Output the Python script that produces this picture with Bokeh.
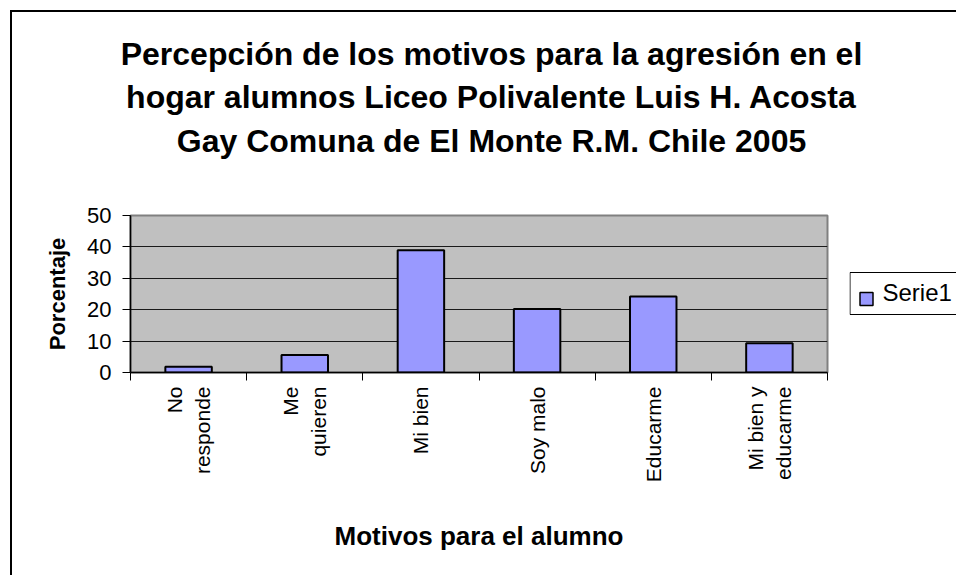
import math
from bokeh.plotting import figure
from bokeh.layouts import column, row
from bokeh.models import Range1d, FixedTicker, ColumnDataSource
from bokeh.core.properties import value
from bokeh.embed import file_html
from bokeh.resources import INLINE

# ---- data ----
categories = ["No\nresponde", "Me\nquieren", "Mi bien", "Soy malo", "Educarme", "Mi bien y\neducarme"]
values = [1.8, 5.6, 38.9, 20.2, 24.2, 9.3]
y_ticks = [0, 10, 20, 30, 40, 50]
series_name = "Serie1"
title_lines = [
    "Percepción de los motivos para la agresión en el",
    "hogar alumnos Liceo Polivalente Luis H. Acosta",
    "Gay Comuna de El Monte R.M. Chile 2005",
]
x_title = "Motivos para el alumno"
y_title = "Porcentaje"

FONT = "Liberation Sans"
BAR_FILL = "#9999FF"

# ---- layout (pixels) ----
TOTAL_W = 944
TITLE_H = 190
CHART_W, CHART_H = 837, 373
LEG_W = TOTAL_W - CHART_W
FL, FT, FW, FH = 118, 13, 697, 157   # plot frame inside the chart canvas


def blank(width, height, y_range=None):
    f = figure(width=width, height=height, x_range=Range1d(0, width),
               y_range=y_range if y_range is not None else Range1d(0, height),
               min_border=0, x_axis_location=None, y_axis_location=None,
               toolbar_location=None, output_backend="svg", title=None)
    f.outline_line_color = None
    f.background_fill_color = "white"
    f.border_fill_color = "white"
    f.grid.visible = False
    return f


# ---- title block ----
tp = blank(TOTAL_W, TITLE_H)
title_src = ColumnDataSource(dict(
    x=[TOTAL_W / 2 + 7] * len(title_lines),
    y=[TITLE_H - (41 + 43.5 * i) for i in range(len(title_lines))],
    text=title_lines))
tp.text(x="x", y="y", text="text", source=title_src, text_align="center",
        text_baseline="middle", text_font=value(FONT), text_font_size="32px",
        text_font_style="bold", text_color="black")

# ---- chart ----
n = len(categories)
centers = [i + 0.5 for i in range(n)]
bounds = list(range(n + 1))
src = ColumnDataSource(dict(x=centers, top=values, cat=categories))

y_rng = Range1d(y_ticks[0], y_ticks[-1])
p = figure(
    x_range=Range1d(0, n), y_range=y_rng,
    width=CHART_W, height=CHART_H, title=None,
    output_backend="svg", toolbar_location=None,
    x_axis_location="below", y_axis_location="left",
    min_border_left=FL, min_border_right=CHART_W - FL - FW,
    min_border_top=FT, min_border_bottom=CHART_H - FT - FH,
)
p.background_fill_color = "#C0C0C0"
p.border_fill_color = "white"
p.outline_line_color = "#808080"
p.outline_line_width = 2

p.vbar(x="x", top="top", source=src, width=0.4, fill_color=BAR_FILL,
       line_color="black", line_width=2)

p.xgrid.visible = False
p.ygrid.ticker = FixedTicker(ticks=y_ticks[1:-1])
p.ygrid.grid_line_color = "#1a1a1a"
p.ygrid.grid_line_width = 1

ya = p.yaxis[0]
ya.ticker = FixedTicker(ticks=y_ticks)
ya.major_tick_out = 8
ya.major_tick_in = 0
ya.minor_tick_line_color = None
ya.axis_line_color = "black"
ya.axis_line_width = 1.5
ya.major_label_text_font = FONT
ya.major_label_text_font_size = "22px"
ya.major_label_text_color = "black"
ya.major_label_standoff = 11
ya.axis_label = y_title
ya.axis_label_text_font = FONT
ya.axis_label_text_font_size = "22px"
ya.axis_label_text_font_style = "bold"
ya.axis_label_text_color = "black"
ya.axis_label_standoff = 14

xa = p.xaxis[0]
xa.ticker = FixedTicker(ticks=centers, minor_ticks=bounds)
xa.major_label_overrides = {c: lab for c, lab in zip(centers, categories)}
xa.axis_line_color = "black"
xa.axis_line_width = 1.5
xa.major_tick_line_color = None
xa.major_tick_out = 0
xa.major_tick_in = 0
xa.minor_tick_line_color = "black"
xa.minor_tick_out = 8
xa.minor_tick_in = 0
xa.major_label_orientation = math.pi / 2
xa.major_label_standoff = 6
xa.major_label_text_font = FONT
xa.major_label_text_font_size = "21px"
xa.major_label_text_color = "black"
xa.axis_label = x_title
xa.axis_label_text_font = FONT
xa.axis_label_text_font_size = "26px"
xa.axis_label_text_font_style = "bold"
xa.axis_label_text_color = "black"
xa.axis_label_standoff = 36


def frame_y(page_y):
    """page pixel row (plot frame spans rows 215..372) -> value on the y scale"""
    return (372 - page_y) / (372 - 215) * (y_ticks[-1] - y_ticks[0]) + y_ticks[0]


# ---- legend block (right of the plot area; its frame lines up with the plot frame) ----
lp = blank(LEG_W, CHART_H, y_range=y_rng)
lp.quad(left=[0.5], right=[LEG_W + 20], top=[frame_y(272)], bottom=[frame_y(314)],
        fill_color="white", line_color="black", line_width=1)
lp.rect(x=[17], y=[frame_y(298.5)], width=13, height=13,
        width_units="screen", height_units="screen",
        fill_color=BAR_FILL, line_color="black", line_width=1.5)
lp.text(x=[33], y=[frame_y(292)], text=[series_name],
        text_align="left", text_baseline="middle", text_font=value(FONT),
        text_font_size="24px", text_color="black")

layout = column(tp, row(p, lp, spacing=0), spacing=0)
layout.styles = {"margin-left": "10px", "margin-top": "10px",
                 "border-left": "2px solid black", "border-top": "2px solid black"}

open("out.html", "w").write(file_html(layout, INLINE))
